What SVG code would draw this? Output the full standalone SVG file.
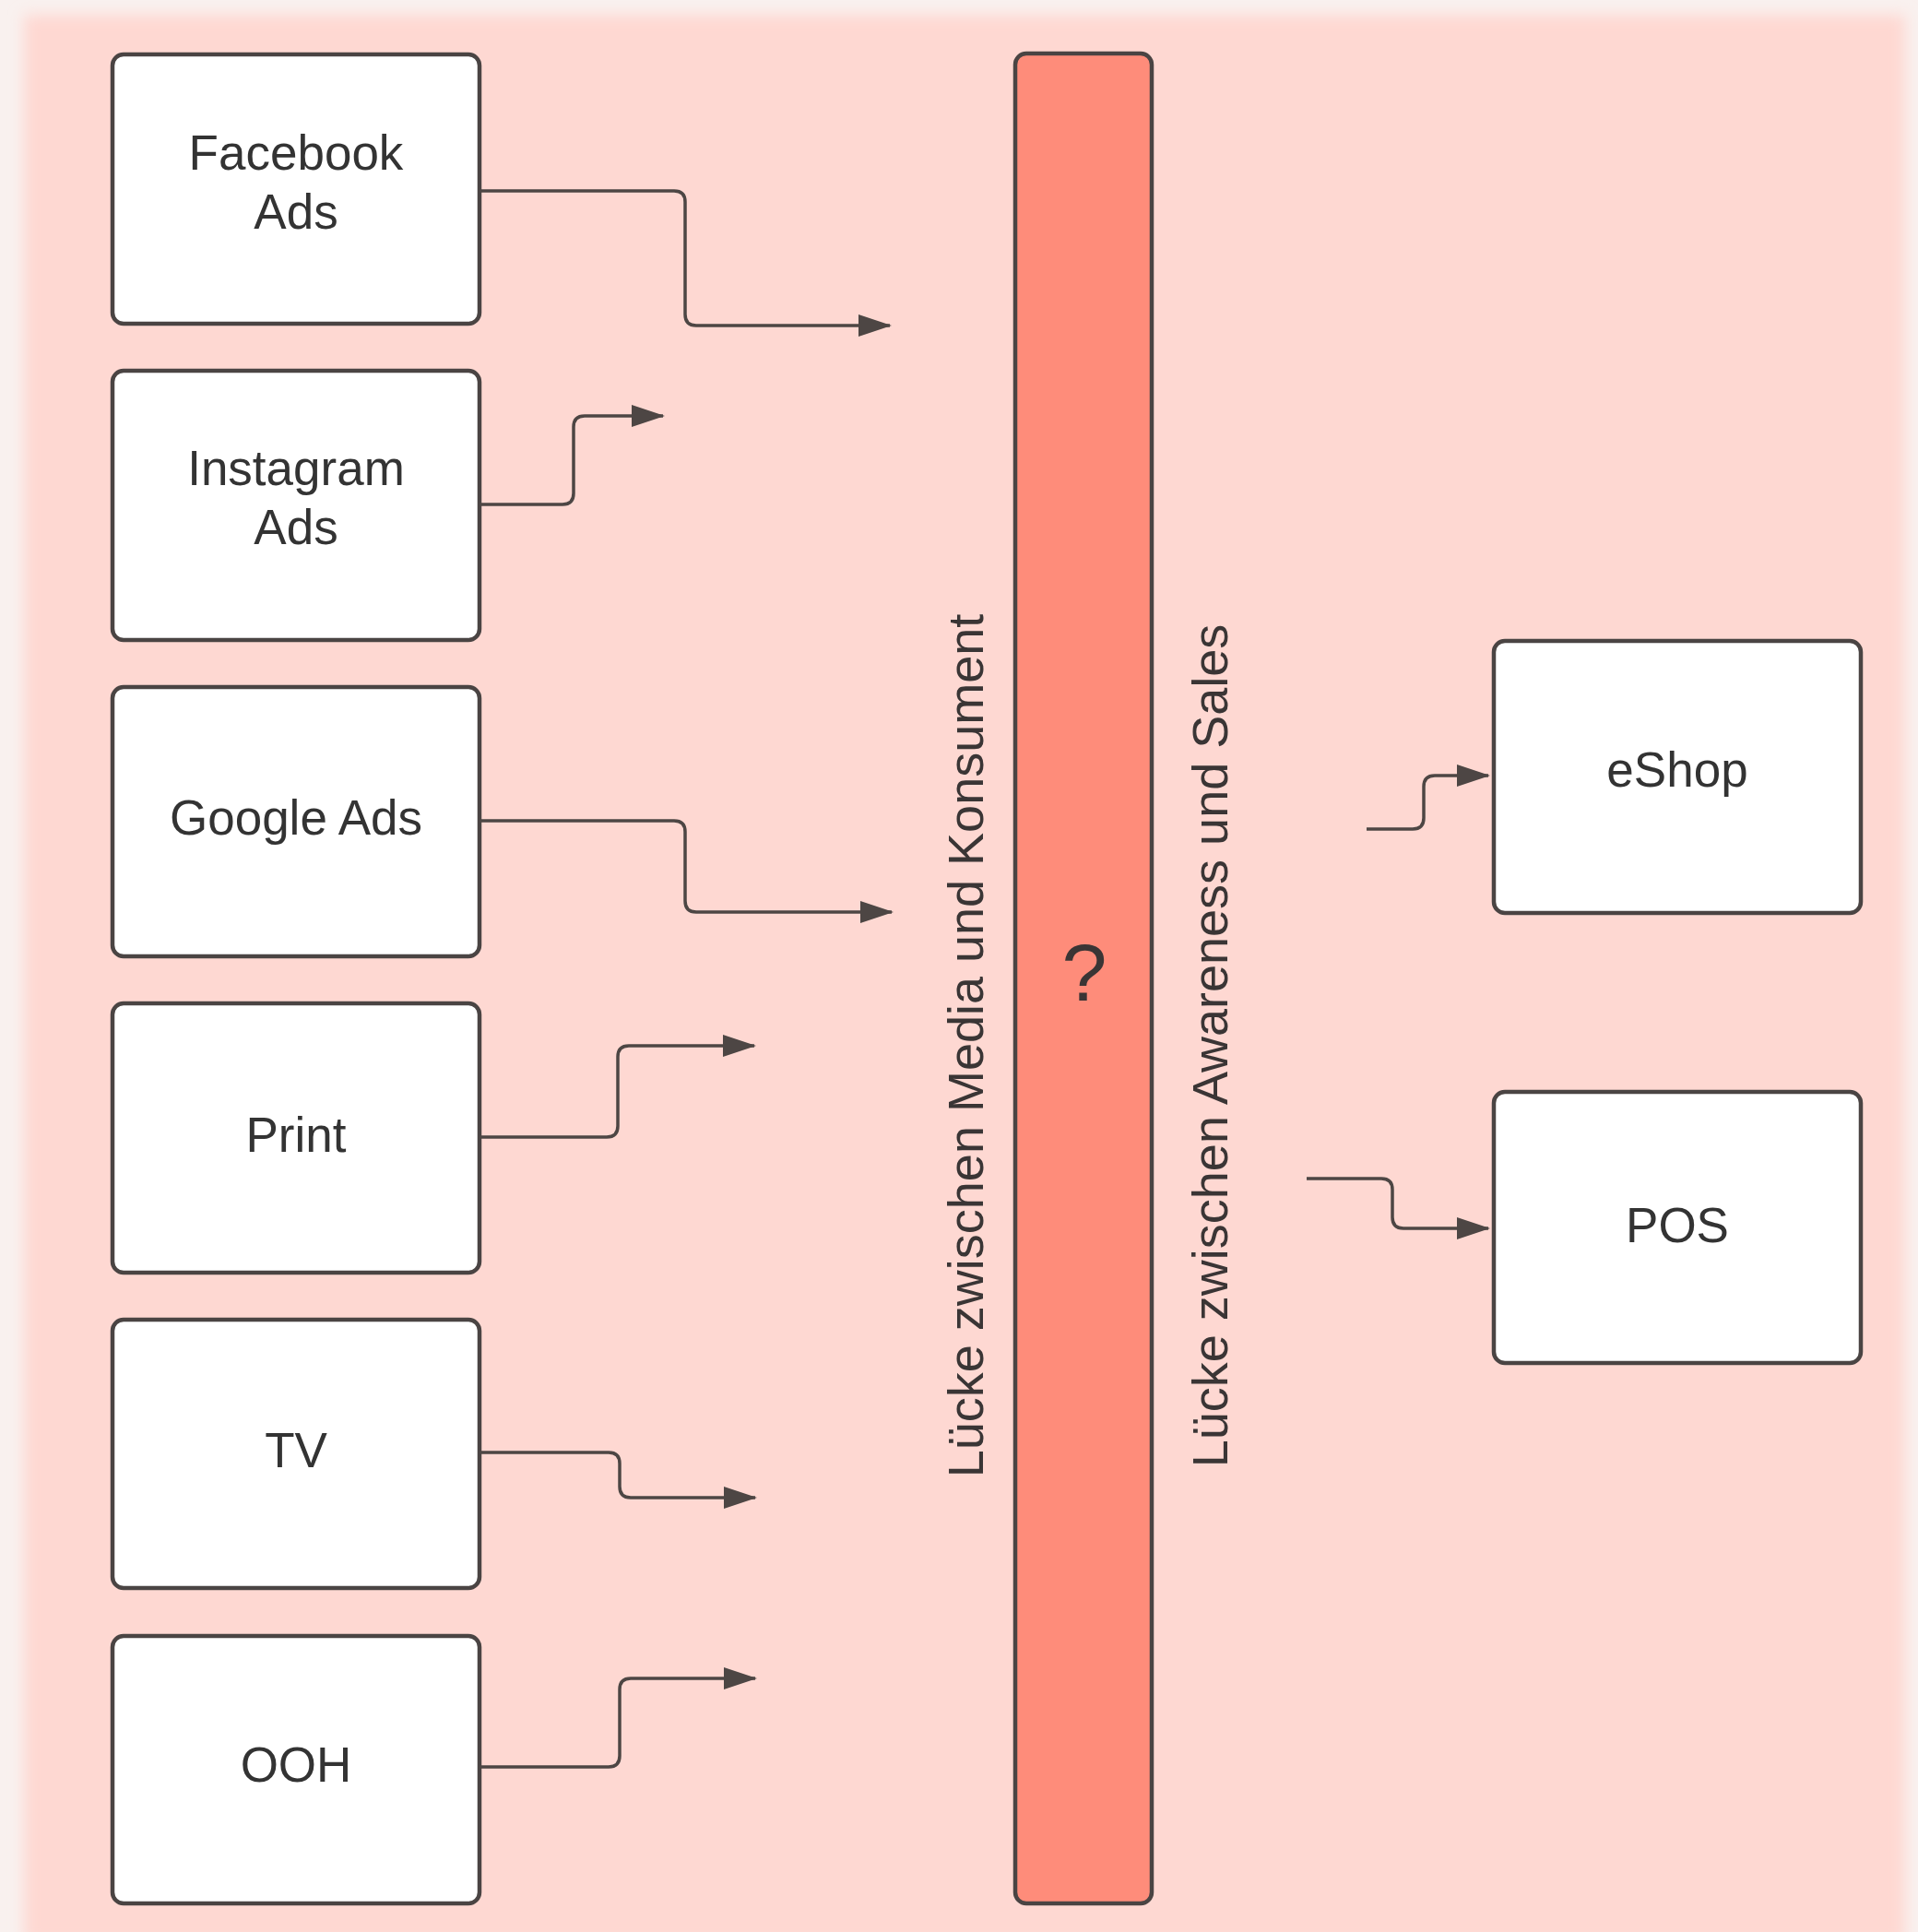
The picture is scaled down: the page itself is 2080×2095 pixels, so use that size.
<svg xmlns="http://www.w3.org/2000/svg" width="2080" height="2095" viewBox="0 0 2080 2095">
  <defs>
    <style>
      .box { fill: #ffffff; stroke: #4a4443; stroke-width: 4.5; }
      .lbl { font-family: "Liberation Sans", Arial, sans-serif; font-size: 53px; fill: #333333; text-anchor: middle; }
      .vlbl { font-family: "Liberation Sans", Arial, sans-serif; font-size: 54px; fill: #3a3535; text-anchor: middle; }
      .con { fill: none; stroke: #4d4644; stroke-width: 3.5; marker-end: url(#arrow); }
    </style>
    <marker id="arrow" viewBox="0 0 36 24" refX="34" refY="12" markerWidth="36" markerHeight="24" markerUnits="userSpaceOnUse" orient="auto">
      <path d="M0,0 L36,12 L0,24 z" fill="#4d4644"/>
    </marker>
    <filter id="soft" x="-5%" y="-5%" width="110%" height="110%">
      <feGaussianBlur stdDeviation="8"/>
    </filter>
  </defs>

  <rect x="0" y="0" width="2080" height="2095" fill="#f9f1ef"/>
  <rect x="26" y="16" width="2040" height="2092" fill="#fed8d2" filter="url(#soft)"/>

  <g id="facebook-ads">
    <rect class="box" x="122" y="59" width="398" height="292" rx="12"/>
    <text class="lbl" x="321" y="184">Facebook</text>
    <text class="lbl" x="321" y="248">Ads</text>
  </g>
  <g id="instagram-ads">
    <rect class="box" x="122" y="402" width="398" height="292" rx="12"/>
    <text class="lbl" x="321" y="526">Instagram</text>
    <text class="lbl" x="321" y="590">Ads</text>
  </g>
  <g id="google-ads">
    <rect class="box" x="122" y="745" width="398" height="292" rx="12"/>
    <text class="lbl" x="321" y="905">Google Ads</text>
  </g>
  <g id="print">
    <rect class="box" x="122" y="1088" width="398" height="292" rx="12"/>
    <text class="lbl" x="321" y="1249">Print</text>
  </g>
  <g id="tv">
    <rect class="box" x="122" y="1431" width="398" height="291" rx="12"/>
    <text class="lbl" x="321" y="1591">TV</text>
  </g>
  <g id="ooh">
    <rect class="box" x="122" y="1774" width="398" height="290" rx="12"/>
    <text class="lbl" x="321" y="1932">OOH</text>
  </g>

  <g id="gap-bar">
    <rect x="1101" y="58" width="148" height="2006" rx="12" fill="#fe8c7a" stroke="#4a4443" stroke-width="4.5"/>
    <text x="1176" y="1085" font-family="'Liberation Sans', Arial, sans-serif" font-size="88" fill="#3a3535" text-anchor="middle">?</text>
  </g>

  <g id="label-media-konsument">
    <text class="vlbl" transform="translate(1066,1134) rotate(-90)" x="0" y="0">Lücke zwischen Media und Konsument</text>
  </g>
  <g id="label-awareness-sales">
    <text class="vlbl" transform="translate(1331,1134) rotate(-90)" x="0" y="0">Lücke zwischen Awareness und Sales</text>
  </g>

  <g id="eshop">
    <rect class="box" x="1620" y="695" width="398" height="295" rx="12"/>
    <text class="lbl" x="1819" y="853">eShop</text>
  </g>
  <g id="pos">
    <rect class="box" x="1620" y="1184" width="398" height="294" rx="12"/>
    <text class="lbl" x="1819" y="1347">POS</text>
  </g>

  <g id="connectors">
    <path class="con" d="M520,207 H731 Q743,207 743,219 V341 Q743,353 755,353 H965"/>
    <path class="con" d="M520,547 H610 Q622,547 622,535 V463 Q622,451 634,451 H719"/>
    <path class="con" d="M520,890 H731 Q743,890 743,902 V977 Q743,989 755,989 H967"/>
    <path class="con" d="M520,1233 H658 Q670,1233 670,1221 V1146 Q670,1134 682,1134 H818"/>
    <path class="con" d="M520,1575 H660 Q672,1575 672,1587 V1612 Q672,1624 684,1624 H819"/>
    <path class="con" d="M520,1916 H660 Q672,1916 672,1904 V1832 Q672,1820 684,1820 H819"/>
    <path class="con" d="M1482,899 H1532 Q1544,899 1544,887 V853 Q1544,841 1556,841 H1614"/>
    <path class="con" d="M1417,1278 H1498 Q1510,1278 1510,1290 V1320 Q1510,1332 1522,1332 H1614"/>
  </g>
</svg>
